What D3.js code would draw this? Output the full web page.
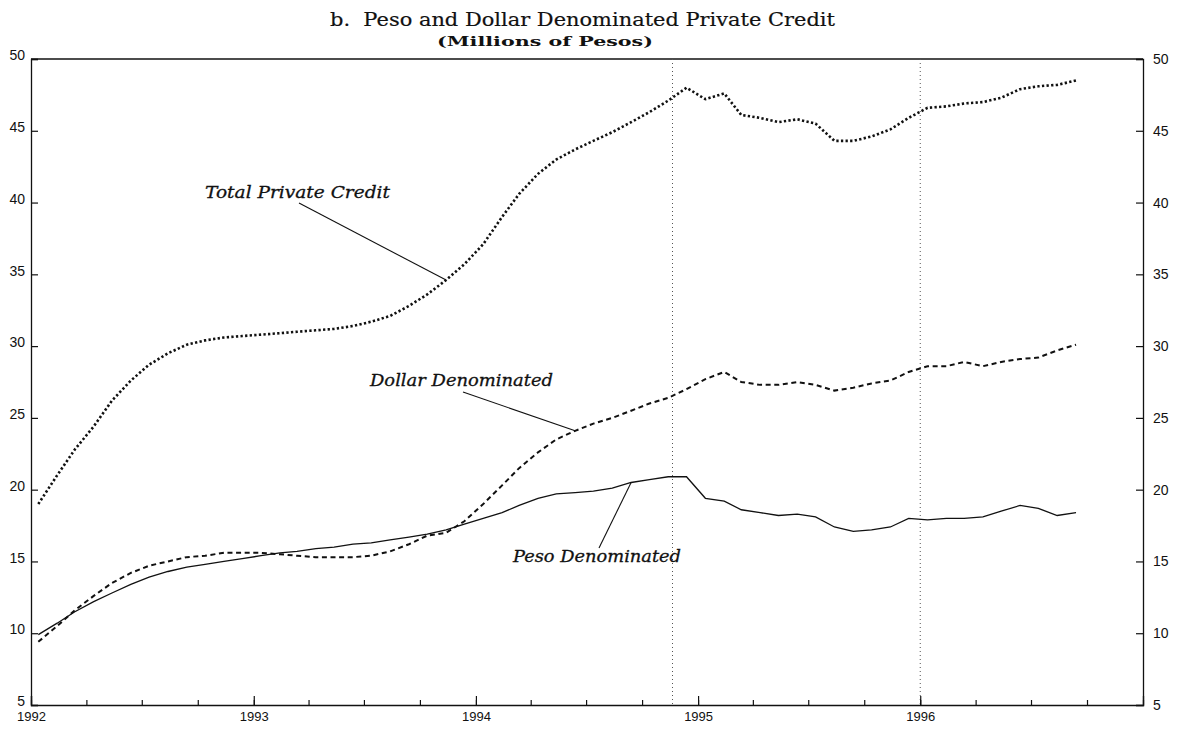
<!DOCTYPE html>
<html>
<head>
<meta charset="utf-8">
<script src="https://cdn.jsdelivr.net/npm/d3@7"></script>
<style>
  html, body { margin: 0; padding: 0; background: #fff; }
  svg { display: block; }
</style>
</head>
<body>
<svg id="chart" width="1178" height="730"></svg>
<script>
// ---- data (millions of pesos, monthly Jan 1992 – Sep 1996) ----
const startMonth = "1992-01";
const endMonth = "1996-10"; // exclusive
const totalCredit = [19.0, 21.0, 22.8, 24.4, 26.2, 27.6, 28.7, 29.5, 30.1, 30.4, 30.6, 30.7,
  30.8, 30.9, 31.0, 31.1, 31.2, 31.4, 31.7, 32.1, 32.8, 33.6, 34.6, 35.7,
  37.1, 39.0, 40.6, 42.0, 43.0, 43.7, 44.3, 44.9, 45.6, 46.3, 47.1, 48.0,
  47.2, 47.6, 46.1, 45.9, 45.6, 45.8, 45.5, 44.3, 44.3, 44.6, 45.1, 45.9,
  46.6, 46.7, 46.9, 47.0, 47.3, 47.9, 48.1, 48.2, 48.5];
const dollarCredit = [9.4, 10.5, 11.6, 12.6, 13.5, 14.2, 14.7, 15.0, 15.3, 15.4, 15.6, 15.6,
  15.6, 15.5, 15.4, 15.3, 15.3, 15.3, 15.4, 15.7, 16.2, 16.8, 17.0, 17.8,
  19.0, 20.3, 21.5, 22.6, 23.5, 24.1, 24.6, 25.0, 25.5, 26.0, 26.4, 27.0,
  27.7, 28.2, 27.5, 27.3, 27.3, 27.5, 27.3, 26.9, 27.1, 27.4, 27.6, 28.2,
  28.6, 28.6, 28.9, 28.6, 28.9, 29.1, 29.2, 29.7, 30.1];
const pesoCredit = [9.9, 10.7, 11.5, 12.2, 12.8, 13.4, 13.9, 14.3, 14.6, 14.8, 15.0, 15.2,
  15.4, 15.6, 15.7, 15.9, 16.0, 16.2, 16.3, 16.5, 16.7, 16.9, 17.2, 17.6,
  18.0, 18.4, 18.9, 19.4, 19.7, 19.8, 19.9, 20.1, 20.5, 20.7, 20.9, 20.9,
  19.4, 19.2, 18.6, 18.4, 18.2, 18.3, 18.1, 17.4, 17.1, 17.2, 17.4, 18.0,
  17.9, 18.0, 18.0, 18.1, 18.5, 18.9, 18.7, 18.2, 18.4];
const yTicks = [5, 10, 15, 20, 25, 30, 35, 40, 45, 50];
const yearTicks = ["1992", "1993", "1994", "1995", "1996"];
const eventDates = ["1994-11-20", "1996-01-01"];
const titleText = "b.\u00a0\u00a0Peso and Dollar Denominated Private Credit";
const subtitleText = "(Millions of Pesos)";
const labels = [
  { text: "Total Private Credit", series: "total", at: 22 },
  { text: "Dollar Denominated", series: "dollar", at: 29 },
  { text: "Peso Denominated", series: "peso", at: 32 }
];

// ---- layout ----
const margin = { left: 31, right: 1143, top: 59, bottom: 705 };
const svg = d3.select("#chart");
const parseM = d3.timeParse("%Y-%m");
const parseD = d3.timeParse("%Y-%m-%d");
const parseY = d3.timeParse("%Y");
const months = d3.timeMonth.range(parseM(startMonth), parseM(endMonth));
const pointDate = m => d3.timeDay.offset(m, 12);

const x = d3.scaleTime()
  .domain([parseY("1992"), parseY("1997")])
  .range([margin.left, margin.right]);
const y = d3.scaleLinear().domain([5, 50]).range([margin.bottom, margin.top]);

const axisFont = "'Liberation Sans', Arial, sans-serif";

// frame top line
svg.append("line")
  .attr("x1", margin.left).attr("x2", margin.right)
  .attr("y1", margin.top).attr("y2", margin.top)
  .attr("stroke", "#111").attr("stroke-width", 1.3);

// event lines
svg.append("g").selectAll("line").data(eventDates).join("line")
  .attr("x1", d => x(parseD(d))).attr("x2", d => x(parseD(d)))
  .attr("y1", margin.top).attr("y2", margin.bottom)
  .attr("stroke", "#555").attr("stroke-width", 1).attr("stroke-dasharray", "1,3");

// axes
const gL = svg.append("g").attr("transform", `translate(${margin.left},0)`)
  .call(d3.axisLeft(y).tickValues(yTicks).tickSize(-7).tickPadding(6).tickFormat(d3.format("d")));
const gR = svg.append("g").attr("transform", `translate(${margin.right},0)`)
  .call(d3.axisRight(y).tickValues(yTicks).tickSize(-7).tickPadding(10).tickFormat(d3.format("d")));
const gBq = svg.append("g").attr("transform", `translate(0,${margin.bottom})`)
  .call(d3.axisBottom(x).ticks(d3.timeMonth.every(3)).tickSize(-5).tickFormat(""));
const gB = svg.append("g").attr("transform", `translate(0,${margin.bottom})`)
  .call(d3.axisBottom(x).tickValues(yearTicks.map(parseY)).tickSize(-9).tickPadding(7)
    .tickFormat(d3.timeFormat("%Y")));
[gL, gR, gB, gBq].forEach(g => {
  g.select(".domain").attr("stroke", "#111").attr("stroke-width", 1.3);
  g.selectAll(".tick line").attr("stroke", "#111").attr("stroke-width", 1.2);
  g.selectAll("text").attr("font-family", axisFont).attr("font-size", 14).attr("fill", "#111");
});
gL.selectAll(".tick text").attr("dy", "0.05em");
gB.selectAll(".tick text").attr("font-size", 13);
gBq.select(".domain").remove();

// series
const series = {
  total: totalCredit,
  dollar: dollarCredit,
  peso: pesoCredit
};
const line = d3.line()
  .x((d, i) => x(pointDate(months[i])))
  .y(d => y(d));

svg.append("path").datum(totalCredit).attr("d", line)
  .attr("fill", "none").attr("stroke", "#111").attr("stroke-width", 2.6)
  .attr("stroke-dasharray", "2.3,2.3");
svg.append("path").datum(dollarCredit).attr("d", line)
  .attr("fill", "none").attr("stroke", "#111").attr("stroke-width", 2)
  .attr("stroke-dasharray", "5,3.6");
svg.append("path").datum(pesoCredit).attr("d", line)
  .attr("fill", "none").attr("stroke", "#111").attr("stroke-width", 1.3);

// annotations
const serif = "'DejaVu Serif', 'Liberation Serif', serif";
const annot = [
  { lab: labels[0], tx: 205, ty: 198, tw: 185, lx: 299, ly: 203 },
  { lab: labels[1], tx: 370, ty: 386, tw: 183, lx: 463, ly: 392 },
  { lab: labels[2], tx: 513, ty: 562, tw: 168, lx: 599, ly: 548 }
];
annot.forEach(a => {
  const s = series[a.lab.series];
  const i = a.lab.at;
  svg.append("text").attr("x", a.tx).attr("y", a.ty)
    .attr("font-family", serif).attr("font-style", "italic").attr("font-size", 17)
    .attr("textLength", a.tw).attr("lengthAdjust", "spacingAndGlyphs")
    .attr("fill", "#111").attr("stroke", "#111").attr("stroke-width", 0.3)
    .text(a.lab.text);
  svg.append("line").attr("x1", a.lx).attr("y1", a.ly)
    .attr("x2", x(pointDate(months[i]))).attr("y2", y(s[i]))
    .attr("stroke", "#111").attr("stroke-width", 1.1);
});

// titles
svg.append("text").attr("x", 330).attr("y", 26)
  .attr("font-family", serif).attr("font-size", 19)
  .attr("textLength", 505).attr("lengthAdjust", "spacingAndGlyphs")
  .attr("fill", "#111").attr("stroke", "#111").attr("stroke-width", 0.2)
  .text(titleText);
svg.append("text").attr("x", 437).attr("y", 46)
  .attr("font-family", serif).attr("font-weight", "bold")
  .attr("font-size", 13)
  .attr("textLength", 216).attr("lengthAdjust", "spacingAndGlyphs")
  .attr("fill", "#111").text(subtitleText);
</script>
</body>
</html>
